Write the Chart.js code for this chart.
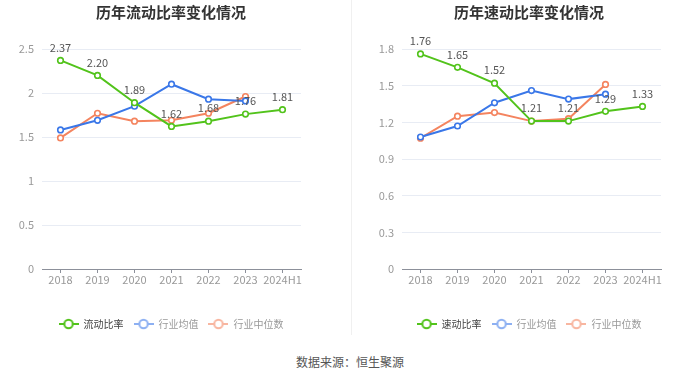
<!DOCTYPE html>
<html>
<head>
<meta charset="utf-8">
<script src="https://cdn.jsdelivr.net/npm/chart.js@4/dist/chart.umd.min.js"></script>
<style>
  body { margin: 0; background: #fff; width: 700px; height: 378px; overflow: hidden; position: relative; font-family: "Noto Sans CJK SC", sans-serif; }
  #left { position: absolute; left: 0; top: 0; }
  #right { position: absolute; left: 358px; top: 0; }
  #divider { position: absolute; left: 351px; top: 0; width: 1px; height: 335px; background: #f0f0f0; }
  #source { position: absolute; left: 0; width: 700px; top: 353px; text-align: center; font-size: 12px; color: #555; }
</style>
</head>
<body>
<canvas id="left" width="342" height="340"></canvas>
<div id="divider"></div>
<canvas id="right" width="342" height="340"></canvas>
<div id="source">数据来源：恒生聚源</div>
<script>
// données
const years = ['2018', '2019', '2020', '2021', '2022', '2023', '2024H1'];

const currentRatio = [2.37, 2.20, 1.89, 1.62, 1.68, 1.76, 1.81];
const currentMean = [1.58, 1.69, 1.85, 2.10, 1.93, 1.91, null];
const currentMedian = [1.49, 1.77, 1.68, 1.69, 1.77, 1.96, null];

const quickRatio = [1.76, 1.65, 1.52, 1.21, 1.21, 1.29, 1.33];
const quickMean = [1.08, 1.17, 1.36, 1.46, 1.39, 1.43, null];
const quickMedian = [1.07, 1.25, 1.28, 1.21, 1.23, 1.51, null];

const GREEN = '#52c31b';
const BLUE = '#3a77e8';
const ORANGE = '#f4845f';

Chart.defaults.font.family = '"Noto Sans CJK SC", "Noto Sans", sans-serif';
Chart.defaults.animation = false;

// petite icône -O- pour la légende
function legendIcon(color) {
    const c = document.createElement('canvas');
    c.width = 20;
    c.height = 12;
    const g = c.getContext('2d');
    g.strokeStyle = color;
    g.lineWidth = 2;
    g.beginPath();
    g.moveTo(0, 6);
    g.lineTo(20, 6);
    g.stroke();
    g.beginPath();
    g.arc(10, 6, 4.2, 0, Math.PI * 2);
    g.fillStyle = '#fff';
    g.fill();
    g.stroke();
    return c;
}

// étiquettes de valeur au-dessus de la première série
const valueLabels = {
    id: 'valueLabels',
    afterDatasetsDraw(chart) {
        const meta = chart.getDatasetMeta(0);
        const ctx = chart.ctx;
        ctx.save();
        ctx.font = '11px "Noto Sans CJK SC", sans-serif';
        ctx.fillStyle = '#555';
        ctx.textAlign = 'center';
        ctx.textBaseline = 'middle';
        meta.data.forEach((pt, i) => {
            const v = chart.data.datasets[0].data[i];
            if (v == null) return;
            ctx.fillText(v.toFixed(2), pt.x, pt.y - 13);
        });
        ctx.restore();
    }
};

function line(label, data, color) {
    return {
        label: label,
        data: data,
        borderColor: color,
        backgroundColor: '#fff',
        borderWidth: 2,
        pointRadius: 2.8,
        pointBorderWidth: 1.6,
        pointBackgroundColor: '#fff',
        pointBorderColor: color,
        tension: 0,
    };
}

function drawChart(id, title, mainLabel, main, mean, median, yMax, step, yWidth, padRight) {
    new Chart(document.getElementById(id), {
        type: 'line',
        data: {
            labels: years,
            datasets: [
                line(mainLabel, main, GREEN),
                line('行业均值', mean, BLUE),
                line('行业中位数', median, ORANGE),
            ]
        },
        options: {
            responsive: false,
            layout: { padding: { bottom: 1 } },
            plugins: {
                title: {
                    display: true,
                    text: title,
                    color: '#333',
                    font: { size: 15, weight: 'bold' },
                    padding: { top: 3, bottom: 28 },
                },
                legend: {
                    position: 'bottom',
                    labels: {
                        usePointStyle: true,
                        pointStyleWidth: 20,
                        boxHeight: 10,
                        padding: 10,
                        font: { size: 10 },
                        generateLabels(chart) {
                            const icons = [GREEN, '#8db0f2', '#f8b6a0'];
                            const textColors = ['#444', '#999', '#999'];
                            return chart.data.datasets.map((ds, i) => ({
                                text: ds.label,
                                pointStyle: legendIcon(icons[i]),
                                fontColor: textColors[i],
                                fillStyle: 'transparent',
                                strokeStyle: 'transparent',
                                lineWidth: 0,
                                hidden: false,
                                datasetIndex: i,
                            }));
                        },
                    },
                },
                tooltip: { enabled: false },
            },
            scales: {
                x: {
                    offset: true,
                    grid: { display: true, drawOnChartArea: false, drawTicks: true, tickLength: 4, color: '#8c909a', offset: false },
                    border: { color: '#8c909a' },
                    ticks: { color: '#999', font: { size: 11 }, padding: 0, maxRotation: 0, autoSkip: false },
                    afterFit(scale) { scale.height = 40; },
                },
                y: {
                    min: 0,
                    max: yMax,
                    grid: { color: '#e8ecf4', drawTicks: false },
                    border: { display: false },
                    ticks: {
                        stepSize: step,
                        color: '#999',
                        font: { size: 11 },
                        padding: 8,
                        callback: (v) => String(Number(v.toFixed(2))),
                    },
                    afterFit(scale) { scale.width = yWidth; },
                },
                // axe vide à droite, seulement pour réserver la marge
                spacer: {
                    position: 'right',
                    grid: { display: false },
                    border: { display: false },
                    ticks: { display: false },
                    afterFit(scale) { scale.width = padRight; },
                },
            },
        },
        plugins: [valueLabels],
    });
}

drawChart('left', '历年流动比率变化情况', '流动比率', currentRatio, currentMean, currentMedian, 2.5, 0.5, 42, 41);
drawChart('right', '历年速动比率变化情况', '速动比率', quickRatio, quickMean, quickMedian, 1.8, 0.3, 44, 39);
</script>
</body>
</html>
